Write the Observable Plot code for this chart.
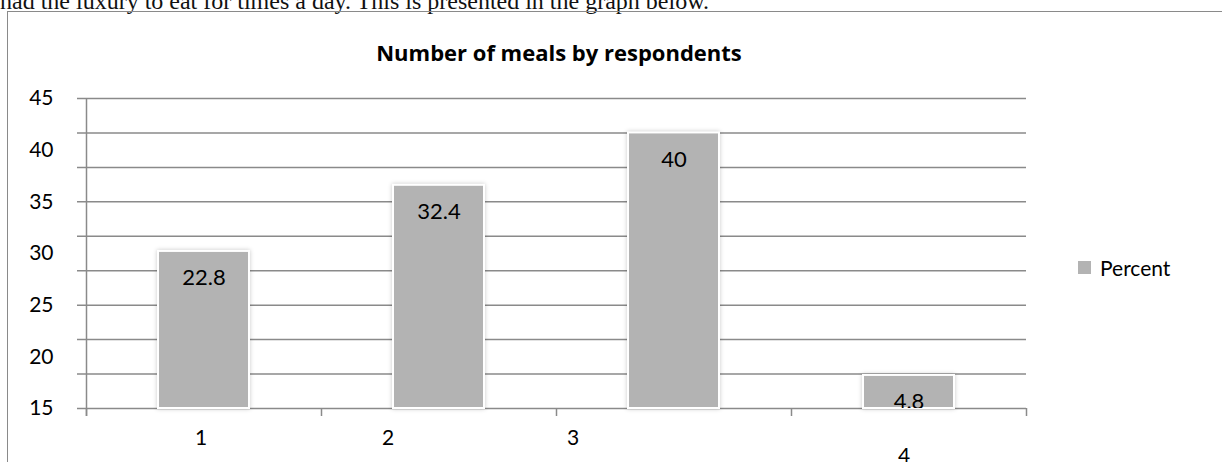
<!DOCTYPE html>
<html>
<head>
<meta charset="utf-8">
<script src="https://cdn.jsdelivr.net/npm/d3@7"></script>
<script src="https://cdn.jsdelivr.net/npm/@observablehq/plot@0.6"></script>
<style>
  html, body { margin: 0; padding: 0; background: #fff; }
  #wrap { position: relative; width: 1222px; height: 462px; overflow: hidden; font-family: Lato, sans-serif; color: #000; }
  #doc { position: absolute; left: 0; top: -11px; font-family: "Liberation Serif", serif; font-size: 24px; line-height: 24px; white-space: nowrap; color: #111; }
  #border { position: absolute; left: 7px; top: 11px; width: 1230px; height: 470px; border-top: 1.5px solid #8a8a8a; border-left: 1.5px solid #8a8a8a; }
  #title { position: absolute; left: 559px; top: 37px; transform: translateX(-50%); font-family: "Open Sans", sans-serif; font-weight: bold; font-size: 22px; white-space: nowrap; }
  #legend { position: absolute; left: 1078px; top: 255px; display: flex; align-items: center; font-size: 21px; }
  #legend .sw { width: 13px; height: 13px; background: #b3b3b3; margin-right: 9px; }
  #chart { position: absolute; left: 0; top: 0; }
  #chart g[aria-label="rect"] rect { filter: drop-shadow(0 0 2px rgba(0,0,0,0.22)); }
</style>
</head>
<body>
<div id="wrap">
  <div id="doc">had the luxury to eat for times a day. This is presented in the graph below.</div>
  <div id="border"></div>
  <div id="chart"></div>
  <div id="title">Number of meals by respondents</div>
  <div id="legend"><div class="sw"></div><span id="legendText"></span></div>
</div>
<script>
// ---- data ----
const categories = [1, 2, 3, 4];
const xTickLabels = ["1", "2", "3", "4"];
const percent = [22.8, 32.4, 40, 4.8];
const valueLabels = ["22.8", "32.4", "40", "4.8"];
const yTickLabels = ["45", "40", "35", "30", "25", "20", "15"];
const seriesName = "Percent";

document.getElementById("legendText").textContent = seriesName;

const data = categories.map((c, i) => ({cat: c, value: percent[i], label: valueLabels[i]}));

// y domain 0..45, gridlines every 5; the (mis)printed tick labels are spread evenly over the axis
const yMax = 45;
const gridValues = d3.range(0, yMax + 0.001, 5);
const yTickPos = yTickLabels.map((_, i) => yMax - i * yMax / (yTickLabels.length - 1));
const yLabelAt = new Map(yTickPos.map((p, i) => [p, yTickLabels[i]]));
const boundaries = [0.5, 1.5, 2.5, 3.5, 4.5];

// rendering quirks of the original category labels (pixel offsets)
const xLabelShift = [[-3, 30], [-51, 30], [-101, 30], [-5, 48]];

const gridColor = "#8a8a8a";

const plot = Plot.plot({
  width: 1222,
  height: 462,
  marginLeft: 86,
  marginRight: 196,
  marginTop: 98,
  marginBottom: 54,
  style: {fontFamily: "Lato, sans-serif", fontSize: "21px", color: "#000", background: "transparent"},
  x: {type: "linear", domain: [0.5, 4.5], axis: null},
  y: {domain: [0, yMax], axis: null},
  marks: [
    Plot.ruleY(gridValues, {stroke: gridColor, strokeWidth: 1.5, insetLeft: -9}),
    Plot.ruleX([0.5], {stroke: gridColor, strokeWidth: 1.5, insetBottom: -8}),
    Plot.axisX({ticks: boundaries, tickSize: 8, tickFormat: () => "", stroke: gridColor, strokeWidth: 1.5, label: null}),
    Plot.rectY(data, {
      x1: d => d.cat - 0.5, x2: d => d.cat + 0.5, y: "value",
      fill: "#b3b3b3", stroke: "white", strokeWidth: 2,
      insetLeft: 72, insetRight: 72
    }),
    Plot.text(data, {x: "cat", y: "value", text: "label", dy: 27, fontSize: 22, fill: "#000", clip: true}),
    Plot.axisY({ticks: yTickPos, tickFormat: d => yLabelAt.get(d), tickSize: 0, tickPadding: 33, fontSize: 21, label: null}),
    ...categories.map((c, i) => Plot.text([c], {
      x: d => d, y: [0], text: [xTickLabels[i]],
      dx: xLabelShift[i][0], dy: xLabelShift[i][1], fontSize: 21, fill: "#000"
    }))
  ]
});
document.getElementById("chart").appendChild(plot);
</script>
</body>
</html>
